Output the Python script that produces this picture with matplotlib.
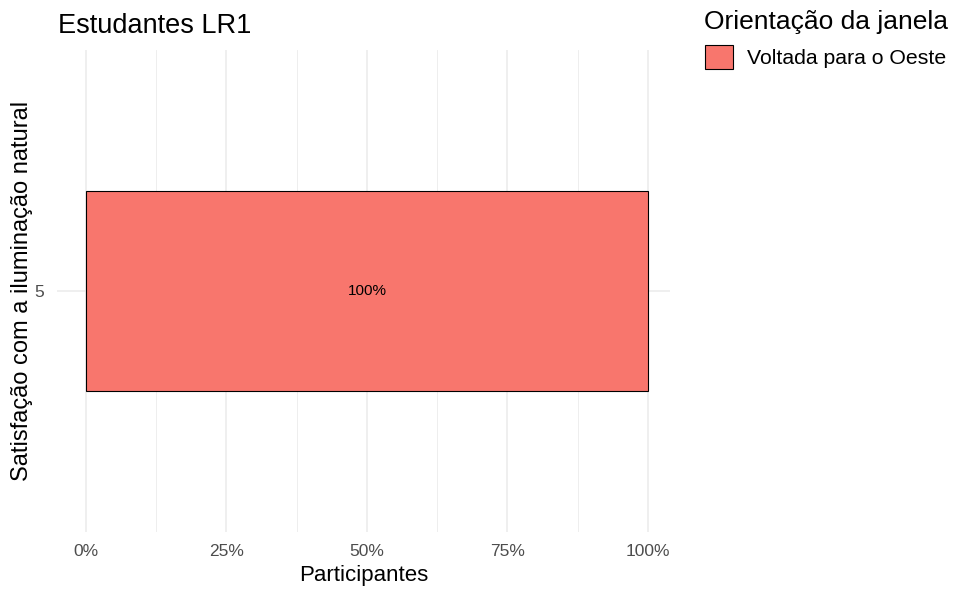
import matplotlib
matplotlib.use("Agg")
import matplotlib.pyplot as plt
from matplotlib.ticker import FuncFormatter, MultipleLocator
from matplotlib.patches import Patch

plt.rcParams['font.family'] = ['Liberation Sans', 'DejaVu Sans']

categories = ["5"]
values = [1.0]
series_name = "Voltada para o Oeste"
bar_labels = ["100%"]
xticks = [0, 0.25, 0.5, 0.75, 1.0]
color = "#F8766D"

fig = plt.figure(figsize=(9.57, 5.91), dpi=100)
ax = fig.add_axes([57/957, 1-532/591, (670-57)/957, (532-50)/591])

ypos = list(range(1, len(categories)+1))
ax.barh(ypos, values, height=0.5, color=color, edgecolor="black", linewidth=0.8, zorder=3)
for y, v, lab in zip(ypos, values, bar_labels):
    ax.text(v/2, y, lab, ha="center", va="center", fontsize=11, color="black", zorder=4)

ax.set_xlim(-29/562, 1+22/562)
ax.set_ylim(0.4, len(categories)+0.6)
ax.set_xticks(xticks)
ax.xaxis.set_minor_locator(MultipleLocator(0.125))
ax.xaxis.set_major_formatter(FuncFormatter(lambda v, p: f"{v*100:.0f}%"))
ax.set_yticks(ypos)
ax.set_yticklabels(categories)
ax.grid(True, which="major", color="#EBEBEB", linewidth=1.1, zorder=0)
ax.grid(True, which="minor", axis="x", color="#EBEBEB", linewidth=0.6, zorder=0)
for s in ax.spines.values():
    s.set_visible(False)
ax.tick_params(axis="both", which="both", length=0, labelsize=12.5, labelcolor="#4D4D4D")
ax.tick_params(axis="x", pad=9)
ax.tick_params(axis="y", pad=9)
ax.set_xlabel("Participantes", fontsize=16, labelpad=4)
ax.set_ylabel("Satisfação com a iluminação natural", fontsize=17, labelpad=1)
fig.text(58/957, 1-26/591, "Estudantes LR1", fontsize=19.5, ha="left", va="center")

handles = [Patch(facecolor=color, edgecolor="black", linewidth=0.8, label=series_name)]
leg = fig.legend(handles=handles, title="Orientação da janela", loc="upper left",
                 bbox_to_anchor=(696/957, 1-2/591), frameon=False, fontsize=15.3,
                 title_fontsize=19, alignment="left", handlelength=1.35, handleheight=1.35,
                 handletextpad=0.65, borderaxespad=0)

fig.savefig("out.png", dpi=100, facecolor="white")
